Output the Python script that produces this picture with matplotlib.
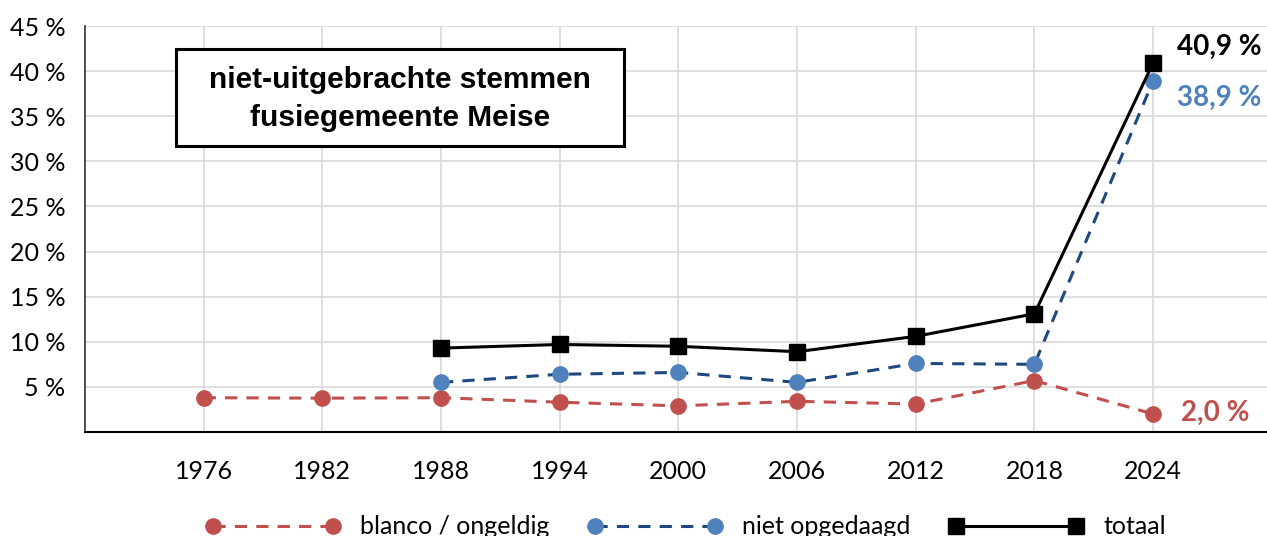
import matplotlib
matplotlib.use("Agg")
import matplotlib.pyplot as plt
from matplotlib.lines import Line2D
from matplotlib.patches import Rectangle
import numpy as np

years = ["1976", "1982", "1988", "1994", "2000", "2006", "2012", "2018", "2024"]
blanco = [3.8, 3.75, 3.8, 3.3, 2.9, 3.4, 3.1, 5.7, 2.0]
niet_opgedaagd = [None, None, 5.5, 6.4, 6.6, 5.5, 7.6, 7.5, 38.9]
totaal = [None, None, 9.3, 9.7, 9.5, 8.9, 10.6, 13.1, 40.9]
yticks = [5, 10, 15, 20, 25, 30, 35, 40, 45]

RED = "#c0504d"
BLUE = "#4f81bd"
DBLUE = "#1f497d"
FONT = ["Lato", "DejaVu Sans"]

def arr(v):
    return np.array([np.nan if x is None else x for x in v], dtype=float)

W, H = 1267, 536
fig = plt.figure(figsize=(W/100, H/100), dpi=100)
ax = fig.add_axes([85/W, 1-432/H, 1-85/W, (432-26)/H])

x = np.arange(len(years))
lw = 2.2
ms = 11
ax.plot(x, arr(blanco), color=RED, lw=lw, ls=(0, (4, 3)), marker="o", ms=ms,
        mfc=RED, mec=RED, zorder=3)
ax.plot(x, arr(niet_opgedaagd), color=DBLUE, lw=lw, ls=(0, (4, 3)), marker="o", ms=ms,
        mfc=BLUE, mec=BLUE, zorder=4)
ax.plot(x, arr(totaal), color="black", lw=lw, ls="-", marker="s", ms=ms,
        mfc="black", mec="black", zorder=5)

ax.set_xlim(-1, 8.96)
ax.set_ylim(0, 45)
ax.set_xticks(x)
ax.set_xticklabels(years)
ax.set_yticks(yticks)
ax.set_yticklabels([f"{t} %" for t in yticks])
ax.tick_params(axis="both", length=0, labelsize=18)
ax.tick_params(axis="x", pad=20)
ax.tick_params(axis="y", pad=14)
for lab in ax.get_xticklabels() + ax.get_yticklabels():
    lab.set_fontfamily(FONT)

ax.grid(True, color="#d9d9d9", lw=1.2, zorder=0)
ax.set_axisbelow(True)
for s in ["top", "right"]:
    ax.spines[s].set_visible(False)
ax.spines["left"].set_color("#404040")
ax.spines["bottom"].set_color("black")
ax.spines["left"].set_linewidth(1.3)
ax.spines["bottom"].set_linewidth(1.5)

# end labels
ax.annotate("40,9 %", (8, totaal[-1]), xytext=(17, 2), textcoords="offset points",
            fontsize=20, fontweight="bold", color="black", va="bottom", ha="left",
            family=FONT)
ax.annotate("38,9 %", (8, niet_opgedaagd[-1]), xytext=(17, -3), textcoords="offset points",
            fontsize=20, fontweight="bold", color=BLUE, va="top", ha="left",
            family=FONT)
ax.annotate("2,0 %", (8, blanco[-1]), xytext=(20, 1), textcoords="offset points",
            fontsize=20, fontweight="bold", color=RED, va="center", ha="left",
            family=FONT)

# title box
fig.patches.append(Rectangle((176/W, 1-146/H), (624-176)/W, (146-49)/H,
                             transform=fig.transFigure, fc="white", ec="black",
                             lw=2.2, zorder=6))
fig.text(400/W, 1-99/H, "niet-uitgebrachte stemmen\nfusiegemeente Meise",
         ha="center", va="center", fontsize=21.5, fontweight="bold",
         family=["Liberation Sans", "DejaVu Sans"], linespacing=1.45, zorder=7)

handles = [
    Line2D([0], [0], color=RED, lw=lw, ls=(0, (4, 3)), marker="o", ms=ms, mfc=RED, mec=RED),
    Line2D([0], [0], color=DBLUE, lw=lw, ls=(0, (4, 3)), marker="o", ms=ms, mfc=BLUE, mec=BLUE),
    Line2D([0], [0], color="black", lw=lw, marker="s", ms=ms, mfc="black", mec="black"),
]
leg = fig.legend(handles, ["blanco / ongeldig", "niet opgedaagd", "totaal"],
                 loc="center", bbox_to_anchor=(0.541, 1-527/H), ncol=3,
                 frameon=False, numpoints=2, handlelength=5.4, handletextpad=0.8,
                 columnspacing=1.5, prop={"family": FONT, "size": 18})

fig.savefig("out.png", dpi=100)
